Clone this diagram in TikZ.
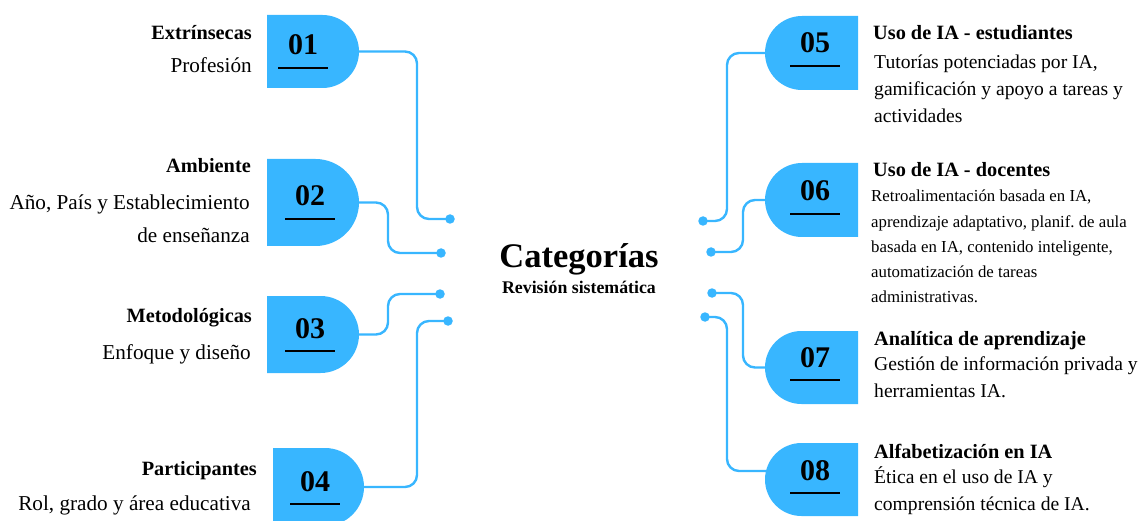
\documentclass[tikz,border=0pt]{standalone}
\usepackage{fontspec}
\setmainfont{Liberation Serif}
\usetikzlibrary{shapes.misc,calc}
\definecolor{skyfill}{HTML}{38B6FF}
\frenchspacing
\begin{document}
\begin{tikzpicture}[x=1pt,y=-1pt,
  tab/.style={rounded rectangle, fill=skyfill, draw=none, inner sep=0pt, outer sep=0pt, minimum width=92pt},
  tabL/.style={tab, rounded rectangle left arc=none},
  tabR/.style={tab, rounded rectangle right arc=none},
  num/.style={font=\bfseries\fontsize{30}{30}\selectfont, anchor=base, inner sep=0pt},
  uline/.style={line width=2.4pt, black},
  conn/.style={draw=skyfill, line width=2.4pt, rounded corners=12pt},
  dot/.style={circle, fill=skyfill, inner sep=0pt, minimum size=9.5pt},
  ttl/.style={font=\bfseries\fontsize{20.3}{24}\selectfont, inner sep=0pt},
  body/.style={font=\fontsize{19.6}{23}\selectfont, inner sep=0pt},
  bodyL/.style={font=\fontsize{21.2}{25}\selectfont, inner sep=0pt},
  small/.style={font=\fontsize{16.8}{20}\selectfont, inner sep=0pt},
  lt/.style={anchor=base east},
  rt/.style={anchor=base west},
]
\useasboundingbox (0,0) rectangle (1145,521);

% tabs on the left (flat left side, round right side)
\node[tabL, minimum height=73pt] (s1) at (313,51.5) {};
\node[tabL, minimum height=87pt] (s2) at (313,202.5) {};
\node[tabL, minimum height=77pt] (s3) at (313,334.5) {};
\node[tabL, minimum height=78pt, minimum width=91pt] (s4) at (318.5,487) {};

% tabs on the right (round left side, flat right side)
\node[tabR, minimum height=74pt, minimum width=93pt] (s5) at (811.5,53) {};
\node[tabR, minimum height=74pt, minimum width=93pt] (s6) at (811.5,200) {};
\node[tabR, minimum height=73pt, minimum width=93pt] (s7) at (811.5,367.5) {};
\node[tabR, minimum height=73pt, minimum width=93pt] (s8) at (811.5,479.5) {};
\coordinate (s8a) at ($(s8.west)+(1,-8.5)$);

% numbers with their underlines
\node[num] (n1) at (303,55) {01};
\node[num] (n2) at (310,206) {02};
\node[num] (n3) at (310,338) {03};
\node[num] (n4) at (315,491) {04};
\node[num] (n5) at (815,53) {05};
\node[num] (n6) at (815,201) {06};
\node[num] (n7) at (815,367) {07};
\node[num] (n8) at (815,480) {08};
\foreach \n in {n1,n2,n3,n4,n5,n6,n7,n8}
  \draw[uline] ($(\n.base)+(-25,13)$) -- ++(50,0);

% end dots around the centre
\node[dot] (d1) at (450,219) {};
\node[dot] (d2) at (441,253) {};
\node[dot] (d3) at (440,294) {};
\node[dot] (d4) at (448,321) {};
\node[dot] (d5) at (703,221) {};
\node[dot] (d6) at (711,252) {};
\node[dot] (d7) at (712,293) {};
\node[dot] (d8) at (705,317) {};

% connectors
\draw[conn] (s1.east) -- ++(58,0) |- (d1.center);
\draw[conn] (s2.east) -- ++(29,0) |- (d2.center);
\draw[conn] (s3.east) -- ++(29,0) |- (d3.center);
\draw[conn] (s4.east) -- ++(53,0) |- (d4.center);
\draw[conn] (s5.west) -- ++(-38,0) |- (d5.center);
\draw[conn] (s6.west) -- ++(-22,0) |- (d6.center);
\draw[conn] (s7.west) -- ++(-22,0) |- (d7.center);
\draw[conn] (s8a) -- ++(-39,0) |- (d8.center);

% centre title
\node[anchor=base, inner sep=0pt, font=\bfseries\fontsize{34.5}{40}\selectfont] (cat) at (579,267) {Categorías};
\node[anchor=base, inner sep=0pt, font=\bfseries\fontsize{17.8}{21}\selectfont] (rev) at (579,294) {Revisión sistemática};

% left texts
\node[ttl,lt] (t1) at (252,40) {Extrínsecas};
\node[bodyL,lt] (b1a) at (252,73) {Profesión};
\node[ttl,lt] (t2) at (251,173) {Ambiente};
\node[bodyL,lt] (b2a) at (250,210) {Año, País y Establecimiento};
\node[bodyL,lt] (b2b) at (250,243) {de enseñanza};
\node[ttl,lt] (t3) at (252,322) {Metodológicas};
\node[bodyL,lt] (b3a) at (251,359) {Enfoque y diseño};
\node[ttl,lt] (t4) at (257,475) {Participantes};
\node[bodyL,lt] (b4a) at (251,510) {Rol, grado y área educativa};

% right texts
\node[ttl,rt] (t5) at (873,40) {Uso de IA - estudiantes};
\node[body,rt] (b5a) at (874,69) {Tutorías potenciadas por IA,};
\node[body,rt] (b5b) at (874,96) {gamificación y apoyo a tareas y};
\node[body,rt] (b5c) at (874,123) {actividades};
\node[ttl,rt] (t6) at (873,177) {Uso de IA - docentes};
\node[small,rt] (b6a) at (871,202) {Retroalimentación basada en IA,};
\node[small,rt] (b6b) at (871,228) {aprendizaje adaptativo, planif. de aula};
\node[small,rt] (b6c) at (871,253) {basada en IA, contenido inteligente,};
\node[small,rt] (b6d) at (871,277) {automatización de tareas};
\node[small,rt] (b6e) at (871,302) {administrativas.};
\node[ttl,rt] (t7) at (874,345) {Analítica de aprendizaje};
\node[body,rt] (b7a) at (874,370) {Gestión de información privada y};
\node[body,rt] (b7b) at (874,397) {herramientas IA.};
\node[ttl,rt] (t8) at (874,458) {Alfabetización en IA};
\node[body,rt] (b8a) at (874,483) {Ética en el uso de IA y};
\node[body,rt] (b8b) at (874,510) {comprensión técnica de IA.};
\end{tikzpicture}
\end{document}
